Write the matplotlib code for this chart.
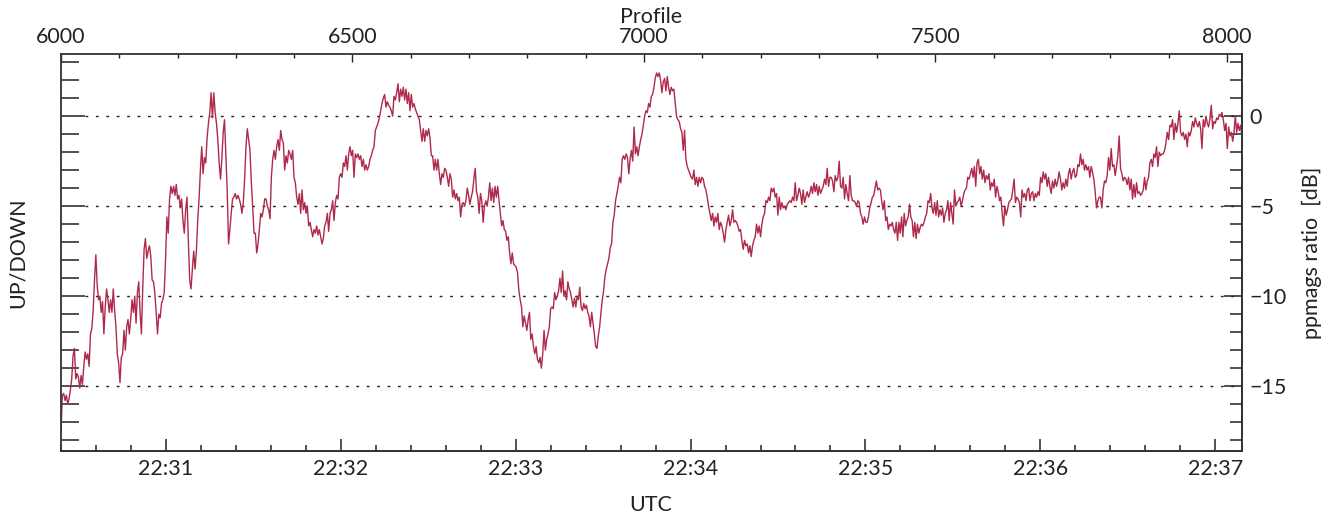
import numpy as np
import matplotlib
matplotlib.use('Agg')
import matplotlib.pyplot as plt
from matplotlib.ticker import MultipleLocator, FixedLocator, FuncFormatter

plt.rcParams['font.family'] = ['Lato', 'DejaVu Sans']

# ppmags ratio [dB] in six chunks of profile numbers
seg_edges = [6000, 6338, 6681, 7024, 7367, 7710, 8026]

seg_a = [-17.5, -15.5, -15.4, -15.8, -15.5, -16.0, -15.7, -15.2, -14.6, -13.3, -12.9, -14.6, -14.3, -14.5, -15.1,
         -14.4, -14.9, -13.9, -13.1, -13.5, -13.2, -13.9, -12.1, -11.8, -10.8, -9.1, -7.7, -9.4, -10.2, -10.0,
         -10.9, -10.3, -12.1, -10.6, -9.6, -10.2, -10.9, -10.2, -10.9, -9.6, -10.8, -11.7, -13.2, -13.7, -14.8,
         -13.4, -13.2, -11.9, -13.0, -11.7, -11.3, -12.1, -11.3, -10.2, -10.9, -10.0, -11.5, -9.8, -9.2, -10.9,
         -12.1, -9.5, -7.4, -6.8, -7.9, -7.5, -7.2, -7.8, -9.1, -9.2, -9.8, -10.9, -12.1, -11.0, -11.2, -10.4,
         -10.2, -9.8, -8.0, -5.6, -6.5, -4.6, -3.9, -4.3, -3.9, -4.4, -3.8, -4.6, -4.4, -5.1, -4.6, -5.8, -6.5,
         -5.2, -4.5, -6.9, -9.1, -9.6, -8.5, -7.5, -8.5, -7.5, -5.8, -4.6, -3.0, -1.7, -3.2, -2.3, -2.6, -1.2,
         -0.4, 0.2, 1.3, -0.1, 1.3, 0.2, -0.4, -1.3, -2.6, -3.5, -2.4, -0.9, -0.2, -2.2, -4.1, -7.1, -6.3, -5.4,
         -4.6, -4.5, -4.3, -4.6, -4.4, -4.6, -4.9, -5.4, -4.8, -3.5, -1.7, -0.7, -1.3, -1.9, -3.7, -5.0, -6.5,
         -6.5, -7.6]
seg_b = [-7.1, -6.3, -5.4, -5.6, -5.2, -4.6, -4.6, -5.0, -5.2, -5.7, -3.4, -2.4, -1.9, -2.4, -1.7, -1.3, -1.9,
         -0.8, -1.3, -1.5, -3.0, -2.2, -2.6, -1.9, -2.1, -2.4, -1.9, -3.4, -3.7, -4.5, -4.9, -4.3, -5.4, -4.1,
         -5.2, -4.8, -5.4, -5.0, -6.1, -5.9, -6.3, -6.7, -6.3, -6.5, -6.1, -6.6, -6.3, -6.7, -7.1, -6.8, -6.1,
         -5.9, -5.4, -6.4, -5.4, -5.2, -4.7, -5.8, -4.8, -4.4, -4.6, -3.4, -3.2, -3.4, -2.6, -2.8, -2.2, -3.0,
         -2.1, -1.7, -2.2, -1.9, -3.4, -2.1, -2.3, -2.1, -2.4, -2.2, -2.8, -2.4, -3.0, -2.7, -3.0, -2.8, -2.4,
         -2.2, -1.9, -1.7, -0.8, -0.6, -0.4, -0.1, 0.3, 0.7, 1.0, 1.2, 0.5, 0.8, 0.6, 0.5, 0.3, 0.0, 1.1, 0.9,
         1.3, 1.8, 0.8, 1.5, 1.1, 1.6, 0.9, 1.5, 0.7, 1.3, 0.3, 1.2, 0.5, 0.7, 0.4, 0.2, 0.0, -0.2, -0.8, -1.4,
         -0.7, -1.4, -0.8, -1.1, -0.7, -1.2, -2.2, -2.2, -3.0, -2.4, -3.0, -2.4, -3.2, -3.8, -3.2, -3.4, -2.9,
         -3.0, -3.4, -3.9, -3.2, -3.5, -4.5, -4.1, -4.6, -4.3]
seg_c = [-4.7, -4.5, -5.6, -4.9, -4.8, -5.0, -4.7, -4.0, -4.4, -4.9, -4.5, -4.2, -3.5, -2.9, -4.2, -4.5, -5.4,
         -4.3, -4.7, -5.9, -5.0, -4.7, -5.0, -4.5, -3.7, -4.7, -4.0, -4.8, -3.9, -4.5, -3.9, -4.7, -5.4, -6.1,
         -5.8, -6.3, -6.4, -6.9, -6.7, -7.6, -8.2, -7.6, -8.2, -8.3, -8.4, -8.7, -9.7, -10.2, -10.6, -11.7,
         -11.1, -11.5, -11.9, -11.3, -10.9, -12.4, -12.1, -12.8, -13.2, -12.8, -13.5, -13.7, -13.4, -14.0,
         -13.2, -11.9, -13.0, -12.4, -12.1, -11.7, -10.7, -10.6, -10.7, -9.8, -10.2, -10.0, -9.7, -9.0, -9.8,
         -8.6, -10.0, -9.7, -10.2, -9.2, -9.6, -9.8, -10.2, -10.6, -10.1, -10.6, -10.0, -10.2, -9.5, -10.6,
         -10.8, -10.4, -10.7, -10.5, -10.9, -11.1, -11.7, -10.9, -11.5, -12.1, -12.8, -12.9, -12.2, -11.7,
         -10.9, -10.2, -9.7, -8.9, -8.5, -8.2, -7.9, -7.3, -7.1, -5.9, -5.5, -4.7, -4.3, -3.9, -3.4, -3.7, -2.4,
         -2.2, -2.4, -2.1, -2.3, -3.2, -2.4, -1.9, -2.5, -0.6, -2.1, -1.7, -2.2, -1.7, -1.3, -1.0, -0.5, 0.0, 0.3,
         0.2, 0.7, 0.5, 1.1, 1.2, 1.6, 2.1, 2.4]
seg_d = [2.2, 2.4, 2.0, 1.3, 1.9, 2.1, 1.4, 2.2, 1.6, 1.2, 1.6, 1.4, 1.5, 0.7, 0.0, -0.2, -0.3, -0.7, -0.9, -1.9,
         -0.8, -2.4, -2.8, -3.0, -3.2, -3.4, -3.5, -3.0, -3.8, -3.4, -3.9, -3.4, -3.7, -3.4, -3.5, -3.9, -4.1,
         -4.5, -5.0, -5.4, -5.8, -5.4, -6.1, -5.6, -5.9, -5.4, -6.3, -5.9, -6.1, -6.5, -7.0, -6.3, -5.9, -5.5,
         -6.1, -5.8, -5.2, -5.9, -5.8, -5.9, -6.1, -6.4, -6.3, -6.9, -7.4, -6.9, -7.2, -7.1, -7.6, -7.2, -7.8,
         -7.2, -6.9, -6.7, -6.0, -6.5, -6.1, -6.7, -6.0, -5.6, -5.4, -4.7, -4.8, -4.5, -4.7, -4.0, -4.2, -4.0,
         -4.5, -4.3, -5.5, -4.5, -5.2, -4.8, -5.1, -5.0, -5.2, -4.9, -4.8, -4.7, -4.8, -4.5, -4.7, -3.7, -4.7,
         -4.4, -4.0, -4.3, -4.9, -4.1, -4.8, -4.5, -4.2, -4.5, -4.3, -3.9, -4.3, -3.7, -4.2, -3.8, -4.4, -3.9,
         -4.3, -4.1, -3.9, -3.5, -3.8, -2.9, -3.9, -3.4, -3.4, -3.6, -4.2, -3.3, -3.6, -3.4, -2.5, -3.9, -4.0,
         -3.4, -4.6, -3.8, -4.3, -4.7, -3.3, -4.4, -4.7, -4.7, -4.8, -5.0]
seg_e = [-4.7, -4.8, -5.4, -5.6, -6.0, -5.6, -5.9, -5.9, -5.6, -5.1, -4.8, -4.5, -4.4, -4.0, -3.6, -4.1, -4.0,
         -4.1, -4.7, -5.2, -4.7, -5.8, -5.6, -6.3, -6.0, -6.1, -5.9, -6.3, -6.5, -5.9, -6.9, -5.9, -6.5, -5.6,
         -6.7, -5.4, -6.1, -5.8, -5.6, -4.9, -5.6, -5.8, -6.7, -5.9, -6.8, -6.0, -6.5, -6.2, -6.0, -6.1, -5.9,
         -5.6, -5.4, -4.7, -4.8, -4.3, -5.1, -5.4, -4.8, -5.5, -4.7, -5.6, -5.2, -5.5, -5.1, -5.9, -5.4, -5.2,
         -4.7, -5.8, -4.8, -5.4, -6.0, -4.1, -5.0, -4.8, -4.7, -4.5, -5.0, -4.7, -4.3, -4.1, -4.0, -3.4, -3.5,
         -3.2, -2.9, -3.4, -2.8, -3.9, -2.6, -2.4, -3.2, -2.8, -3.5, -3.0, -3.7, -3.3, -3.5, -3.2, -4.1, -3.7,
         -3.9, -3.5, -4.5, -3.9, -4.2, -4.7, -4.5, -5.4, -6.1, -5.0, -5.5, -5.2, -4.8, -4.7, -4.6, -4.1, -3.5,
         -4.8, -4.5, -4.6, -4.8, -5.6, -4.1, -4.5, -4.3, -4.7, -4.1, -4.0, -4.7, -4.3, -4.2, -4.7, -4.3, -4.5,
         -4.2, -4.4, -3.4, -3.7, -3.1, -3.5, -3.2, -3.9, -3.4, -3.9, -4.3, -3.6, -4.0, -3.5, -3.9]
seg_f = [-3.6, -3.1, -3.5, -4.1, -3.7, -4.0, -3.5, -3.9, -3.2, -2.9, -3.5, -3.1, -2.9, -3.4, -3.3, -2.7, -2.8,
         -2.1, -2.7, -2.4, -3.0, -2.7, -3.0, -2.8, -3.4, -2.8, -3.1, -3.5, -4.2, -5.1, -4.7, -4.5, -4.5, -5.1,
         -4.1, -3.6, -3.7, -3.3, -2.3, -3.0, -1.8, -2.8, -2.7, -3.3, -2.8, -2.2, -1.1, -2.9, -3.2, -3.6, -3.4,
         -3.5, -3.8, -3.4, -4.1, -3.5, -4.6, -3.8, -4.5, -3.7, -4.3, -4.2, -4.4, -4.3, -4.1, -3.4, -4.1, -3.6,
         -3.4, -2.6, -2.4, -2.8, -2.1, -2.3, -1.7, -2.8, -2.0, -2.2, -2.1, -2.1, -1.9, -1.5, -0.9, -1.3, -0.5,
         -0.6, -0.2, -1.3, -0.4, -0.9, -0.4, 0.3, -0.9, -1.1, -0.9, -1.3, -1.0, -1.7, -0.9, -1.1, -0.8, -0.3,
         -0.6, -0.1, -0.4, -0.6, -0.3, -0.7, -1.8, -0.2, -0.6, 0.0, -0.4, -0.6, -0.1, 0.6, -0.7, -0.3, -0.4,
         -0.1, -0.2, 0.1, 0.0, 0.2, -0.2, -0.8, -0.4, -1.8, -0.6, -1.1, -0.9, -1.4, -0.9, 0.0, -0.9, -0.4, -0.8,
         -0.5, -1.2]

ref_levels = [0, -5, -10, -15]
utc_labels = ['22:31', '22:32', '22:33', '22:34', '22:35', '22:36', '22:37']

# 5 profiles per second, profile 6180 is 22:31:00
prof_2231 = 6180
prof_per_min = 300

segs = [seg_a, seg_b, seg_c, seg_d, seg_e, seg_f]
prof = []
ratio = []
for i, s in enumerate(segs):
    last = (i == len(segs) - 1)
    prof.append(np.linspace(seg_edges[i], seg_edges[i + 1], len(s), endpoint=last))
    ratio.append(np.array(s))
prof = np.concatenate(prof)
ratio = np.concatenate(ratio)

W, H = 1337, 518
fs = 15.5
tc = '#222222'
fig = plt.figure(figsize=(W / 100, H / 100), dpi=100)
ax = fig.add_axes([61 / W, 67 / H, 1181 / W, 397 / H])

for lv in ref_levels:
    ax.axhline(lv, xmin=0.02, xmax=1, color=tc, lw=1.0, ls=(0, (2, 5.5)), zorder=1)
ax.plot(prof, ratio, color='#ae2a4a', lw=1.0, zorder=2)

ax.set_xlim(6000, 8026)
ax.set_ylim(-18.6, 3.45)

for sp in ax.spines.values():
    sp.set_color('#333333')
    sp.set_linewidth(1.3)

# top: profile number
ax.xaxis.tick_top()
ax.xaxis.set_major_locator(MultipleLocator(500))
ax.xaxis.set_minor_locator(MultipleLocator(100))
ax.tick_params(axis='x', which='major', direction='in', length=5.8, width=1.0, pad=5,
               labelsize=fs, color=tc, labelcolor=tc)
ax.tick_params(axis='x', which='minor', direction='in', length=2.9, width=1.0, color=tc)

# left: UP/DOWN, ticks only
ax.yaxis.set_major_locator(MultipleLocator(5))
ax.yaxis.set_minor_locator(MultipleLocator(1))
ax.tick_params(axis='y', which='major', direction='in', length=17, width=1.1, labelleft=False, color=tc)
ax.tick_params(axis='y', which='minor', direction='in', length=13, width=1.1, color=tc)

# bottom: UTC
bot = ax.secondary_xaxis('bottom', functions=(lambda p: (p - prof_2231) / prof_per_min,
                                              lambda m: m * prof_per_min + prof_2231))
bot.xaxis.set_major_locator(FixedLocator(range(len(utc_labels))))
bot.xaxis.set_major_formatter(FuncFormatter(
    lambda v, pos: utc_labels[int(round(v))] if 0 <= round(v) < len(utc_labels) else ''))
bot.xaxis.set_minor_locator(MultipleLocator(0.2))
bot.tick_params(axis='x', which='major', direction='in', length=8.6, width=1.1, pad=6,
                labelsize=fs, color=tc, labelcolor=tc)
bot.tick_params(axis='x', which='minor', direction='in', length=4.3, width=1.1, color=tc)
bot.spines['bottom'].set_color('#333333')
bot.spines['bottom'].set_linewidth(1.3)

# right: ppmags ratio
rgt = ax.secondary_yaxis('right')
rgt.yaxis.set_major_locator(MultipleLocator(5))
rgt.yaxis.set_minor_locator(MultipleLocator(1))
rgt.tick_params(axis='y', which='major', direction='in', length=13, width=1.1, pad=5,
                labelsize=fs, color=tc, labelcolor=tc)
rgt.tick_params(axis='y', which='minor', direction='in', length=8.6, width=1.1, color=tc)
rgt.spines['right'].set_color('#333333')
rgt.spines['right'].set_linewidth(1.3)

# axis titles
fig.text(651 / W, 1 - 17 / H, 'Profile', ha='center', va='center', fontsize=fs, color=tc)
fig.text(651 / W, 1 - 505 / H, 'UTC', ha='center', va='center', fontsize=fs, color=tc)
fig.text(18 / W, 1 - 253 / H, 'UP/DOWN', ha='center', va='center', rotation=90, fontsize=fs, color=tc)
fig.text(1312 / W, 1 - 253 / H, 'ppmags ratio  [dB]', ha='center', va='center', rotation=90,
         fontsize=fs, color=tc)

fig.savefig('out.png', dpi=100)
